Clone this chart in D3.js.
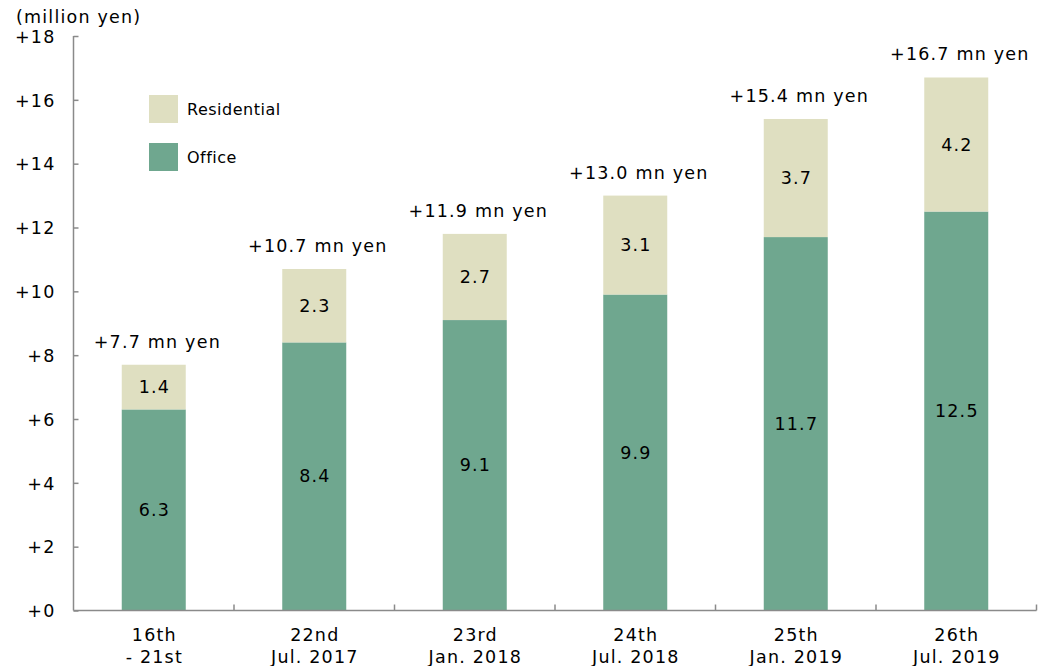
<!DOCTYPE html>
<html>
<head>
<meta charset="utf-8">
<script src="https://cdn.jsdelivr.net/npm/d3@7/dist/d3.min.js"></script>
<style>
  body { margin: 0; background: #fff; }
  text { font-family: "DejaVu Sans", Verdana, sans-serif; fill: #000; }
  .lbl { font-size: 17.5px; letter-spacing: 1.2px; }
</style>
</head>
<body>
<svg id="chart" width="1047" height="666"></svg>
<script>
// Rounds: first line and second line of each category label
const roundLine1 = ["16th", "22nd", "23rd", "24th", "25th", "26th"];
const roundLine2 = ["- 21st", "Jul. 2017", "Jan. 2018", "Jul. 2018", "Jan. 2019", "Jul. 2019"];
const office = [6.3, 8.4, 9.1, 9.9, 11.7, 12.5];
const residential = [1.4, 2.3, 2.7, 3.1, 3.7, 4.2];
const totals = [7.7, 10.7, 11.9, 13.0, 15.4, 16.7];
const yTicks = [0, 2, 4, 6, 8, 10, 12, 14, 16, 18];
const seriesNames = ["Residential", "Office"];

const colors = { Office: "#6fa78f", Residential: "#dfdfc1" };
const axisColor = "#8a8a8a";

const svg = d3.select("#chart");
const plotLeft = 73.5, plotRight = 1036.5, plotTop = 36, plotBottom = 610.5;

const x = d3.scaleBand().domain(d3.range(roundLine1.length)).range([plotLeft, plotRight]);
const y = d3.scaleLinear().domain([0, 18]).range([plotBottom, plotTop]);
const barW = 64;

// y axis with inward ticks
const yAxis = svg.append("g").attr("transform", `translate(${plotLeft},0)`)
  .call(d3.axisLeft(y).tickValues(yTicks).tickSize(-5).tickPadding(0).tickFormat(d => "+" + d));
yAxis.select(".domain").attr("d", `M0,${plotTop}V${plotBottom}`).attr("stroke", axisColor).attr("stroke-width", 1.5);
yAxis.selectAll(".tick line").attr("stroke", axisColor).attr("stroke-width", 1.5);
yAxis.selectAll(".tick text").attr("class", "lbl").attr("x", -18).attr("dy", "0.36em")
  .attr("font-family", "DejaVu Sans, Verdana, sans-serif").attr("fill", "#000").attr("font-size", null);

svg.append("text").attr("class", "lbl").attr("x", 16).attr("y", 23).text("(million yen)");

// stacked bars
const g = svg.append("g");
roundLine1.forEach((_, i) => {
  const cx = x(i) + x.bandwidth() / 2;
  const tx = cx + 0.6; // compensate trailing letter spacing when centring
  g.append("rect").attr("x", cx - barW / 2).attr("width", barW)
    .attr("y", y(office[i])).attr("height", y(0) - y(office[i]))
    .attr("fill", colors.Office);
  const topVal = office[i] + residential[i];
  g.append("rect").attr("x", cx - barW / 2).attr("width", barW)
    .attr("y", y(topVal)).attr("height", y(office[i]) - y(topVal))
    .attr("fill", colors.Residential);
  // segment value labels
  g.append("text").attr("class", "lbl").attr("x", tx).attr("y", y(office[i] / 2) + 6)
    .attr("text-anchor", "middle").text(office[i].toFixed(1));
  g.append("text").attr("class", "lbl").attr("x", tx).attr("y", y(office[i] + residential[i] / 2) + 6)
    .attr("text-anchor", "middle").text(residential[i].toFixed(1));
  // total label
  g.append("text").attr("class", "lbl").attr("x", tx + 3).attr("y", y(topVal) - 17)
    .attr("text-anchor", "middle")
    .text("+" + totals[i].toFixed(1) + " mn yen");
  // category labels
  g.append("text").attr("class", "lbl").attr("x", tx).attr("y", 641)
    .attr("text-anchor", "middle").text(roundLine1[i]);
  g.append("text").attr("class", "lbl").attr("x", tx).attr("y", 663)
    .attr("text-anchor", "middle").text(roundLine2[i]);
});

// x axis line with upward ticks at category boundaries
svg.append("line").attr("x1", plotLeft).attr("x2", plotRight).attr("y1", plotBottom).attr("y2", plotBottom)
  .attr("stroke", axisColor).attr("stroke-width", 1.5);
const bounds = d3.range(1, roundLine1.length + 1).map(i => plotLeft + i * x.step());
svg.selectAll(".xtick").data(bounds).enter().append("line")
  .attr("x1", d => d).attr("x2", d => d)
  .attr("y1", plotBottom).attr("y2", plotBottom - 6)
  .attr("stroke", axisColor).attr("stroke-width", 1.5);

// legend
const legend = svg.append("g");
seriesNames.forEach((name, i) => {
  legend.append("rect").attr("x", 149).attr("y", 95 + i * 48).attr("width", 29).attr("height", 28)
    .attr("fill", colors[name]);
  legend.append("text").attr("x", 187).attr("y", 115 + i * 48).attr("font-size", 16)
    .attr("letter-spacing", 0.5).text(name);
});
</script>
</body>
</html>
